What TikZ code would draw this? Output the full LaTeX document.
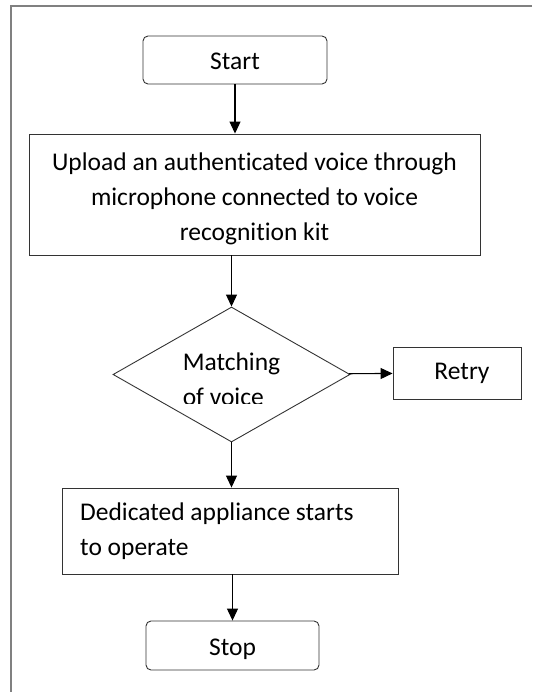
\documentclass[tikz,border=0pt]{standalone}
\usepackage{fontspec}
\setmainfont[Ligatures=NoCommon]{Carlito}
\usetikzlibrary{shapes.geometric,arrows.meta}

\begin{document}
\begin{tikzpicture}[x=1pt, y=-1pt,
    font=\fontsize{25.5}{35}\selectfont,
    box/.style={rectangle, draw=black!80, line width=0.9pt, inner sep=0pt},
    term/.style={box, rounded corners=5pt, minimum width=184pt, minimum height=48pt,
        text height=19pt, text depth=0pt},
    decision/.style={diamond, draw=black!80, line width=0.9pt, inner sep=0pt,
        minimum width=237pt, minimum height=135pt},
    flow/.style={-{Triangle[width=11pt,length=12pt]}, line width=1.1pt}]
    \useasboundingbox (0,0) rectangle (532,692);
    % frame, cut off on the right and at the bottom
    \draw[gray, line width=1.5pt] (532,6) -- (11,6) -- (11,692);
    \node[term] (start) at (235,60) {Start};
    \node[box, minimum width=451pt, minimum height=121pt] (upload) at (254.5,194.5) {};
    \node[align=center, inner sep=0pt] (uploadtext) at (254.5,199)
        {Upload an authenticated voice through\\microphone connected to voice\\recognition kit};
    \node[decision] (match) at (231.5,374.5) {};
    \begin{scope}
    \clip (150,330) rectangle (320,403.5);
    \node[align=left, inner sep=0pt] (matchtext) at (231.5,379) {Matching\\of voice};
    \end{scope}
    \node[box, minimum width=128pt, minimum height=52pt] (retry) at (457,373) {\hspace{10pt}Retry};
    \node[box, minimum width=336pt, minimum height=86pt] (operate) at (230,531) {};
    \node[align=left, inner sep=0pt, anchor=west] (operatetext) at (80,531)
        {Dedicated appliance starts\\to operate};
    \node[term, minimum width=173pt, minimum height=49pt] (stop) at (232.5,645.5) {Stop};
    \draw[flow] (start) -- (start |- upload.north);
    \draw[flow] (upload.south -| match.north) -- (match);
    \draw[flow] (match) -- (retry);
    \draw[flow] (match.south) -- (match.south |- operate.north);
    \draw[flow] (stop.north |- operate.south) -- (stop);
\end{tikzpicture}
\end{document}
